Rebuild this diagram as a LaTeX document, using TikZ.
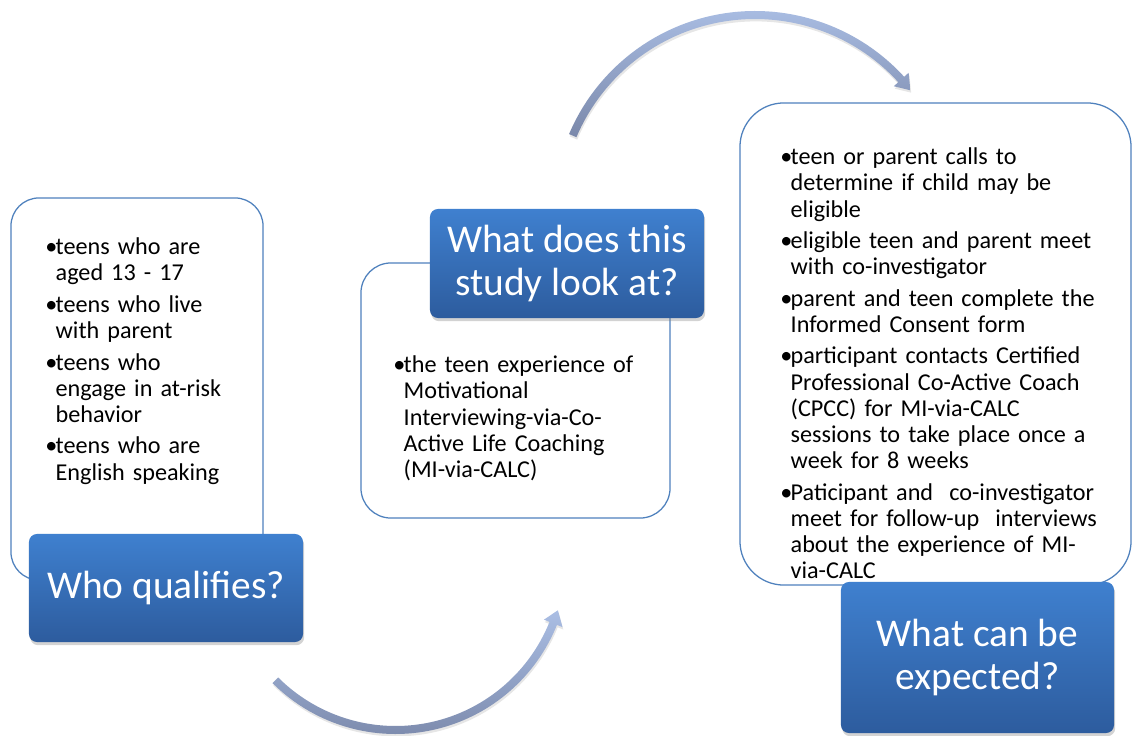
\documentclass[tikz,border=0pt]{standalone}
\usepackage{fontspec}
\setmainfont{Carlito}
\usetikzlibrary{calc, shadows}

\definecolor{boxline}{RGB}{79,129,189}
\definecolor{headtop}{RGB}{63,128,207}
\definecolor{headbot}{RGB}{45,92,158}
\definecolor{arctop}{RGB}{170,190,228}
\definecolor{arcbot}{RGB}{122,136,170}

\newcommand{\bitem}[1]{\par\noindent\hangindent=0.26cm\hangafter=1\makebox[0.26cm][l]{•}#1\par}

\begin{document}
\begin{tikzpicture}[x=0.025cm, y=-0.025cm]
			\tikzstyle{card} = [draw=boxline, line width=0.9pt, fill=white, rectangle]
			\tikzstyle{headbox} = [rectangle, rounded corners=0.2cm, top color=headtop, bottom color=headbot, text=white, align=center, font=\fontsize{28pt}{30.6pt}\selectfont, drop shadow={opacity=0.35, shadow xshift=0.03cm, shadow yshift=-0.08cm}]
			\tikzstyle{list} = [anchor=north west, inner sep=0pt, text width=8cm, align=left, font=\fontsize{17.2pt}{18.6pt}\selectfont, execute at begin node=\setlength{\parskip}{3.8pt}]
			\tikzstyle{flowarc} = [top color=arctop, bottom color=arcbot, drop shadow={opacity=0.2, shadow xshift=0.02cm, shadow yshift=-0.06cm}]
			
			\useasboundingbox (0, 0) rectangle (1132, 736);
			
			% curved arrows
			\coordinate (topc) at (755, 213);
			\coordinate (lowc) at (395.5, 560);
			\path[flowarc] ($(topc)+(-157:202)$) arc[start angle=-157, end angle=-42.4, radius=202]
			-- ($(topc)+(-42.4:208)$) -- ($(topc)+(-38.3:198)$) -- ($(topc)+(-42.4:188)$)
			-- ($(topc)+(-42.4:194)$) arc[start angle=-42.4, end angle=-157, radius=194] -- cycle;
			\path[flowarc] ($(lowc)+(135:174)$) arc[start angle=135, end angle=21.9, radius=174]
			-- ($(lowc)+(21.9:180)$) -- ($(lowc)+(17.2:170)$) -- ($(lowc)+(21.9:160)$)
			-- ($(lowc)+(21.9:166)$) arc[start angle=21.9, end angle=135, radius=166] -- cycle;
			
			% cards
			\node[card, minimum width=6.3cm, minimum height=9.55cm, rounded corners=0.7cm] 	at (137, 389) 	(whobox) 	{};
			\node[card, minimum width=7.725cm, minimum height=6.375cm, rounded corners=0.75cm]	at (515.5, 390.5)	(whatbox)	{};
			\node[card, minimum width=9.775cm, minimum height=12.05cm, rounded corners=1.1cm]	at (935.5, 344)	(expectbox)	{};
			
			\node[list] 	at (45, 223) 	(wholist) 	{\bitem{teens who are\newline aged 13 - 17}\bitem{teens who live\newline with parent}\bitem{teens who\newline engage in at-risk\newline behavior}\bitem{teens who are\newline English speaking}};
			\node[list] 	at (393, 341) 	(whatlist) 	{\bitem{the teen experience of\newline Motivational\newline Interviewing-via-Co-\newline Active Life Coaching\newline (MI-via-CALC)}};
			\node[list] 	at (780, 133) 	(expectlist) 	{\bitem{teen or parent calls to\newline determine if child may be\newline eligible}\bitem{eligible teen and parent meet\newline with co-investigator}\bitem{parent and teen complete the\newline Informed Consent form}\bitem{participant contacts Certified\newline Professional Co-Active Coach\newline (CPCC) for MI-via-CALC\newline sessions to take place once a\newline week for 8 weeks}\bitem{Paticipant and\ \ co-investigator\newline meet for follow-up\ \ interviews\newline about the experience of MI-\newline via-CALC}};
			
			% titles
			\node[headbox, minimum width=6.85cm, minimum height=2.7cm] 	at (166, 588) 	(who) 	{Who qualifies?};
			\node[headbox, minimum width=6.85cm, minimum height=2.725cm] 	at (567, 263.5) 	(what) 	{What does this\\study look at?};
			\node[headbox, minimum width=6.825cm, minimum height=3.775cm] 	at (977.5, 657.5) 	(expect) 	{What can be\\expected?};
			\end{tikzpicture}
\end{document}
